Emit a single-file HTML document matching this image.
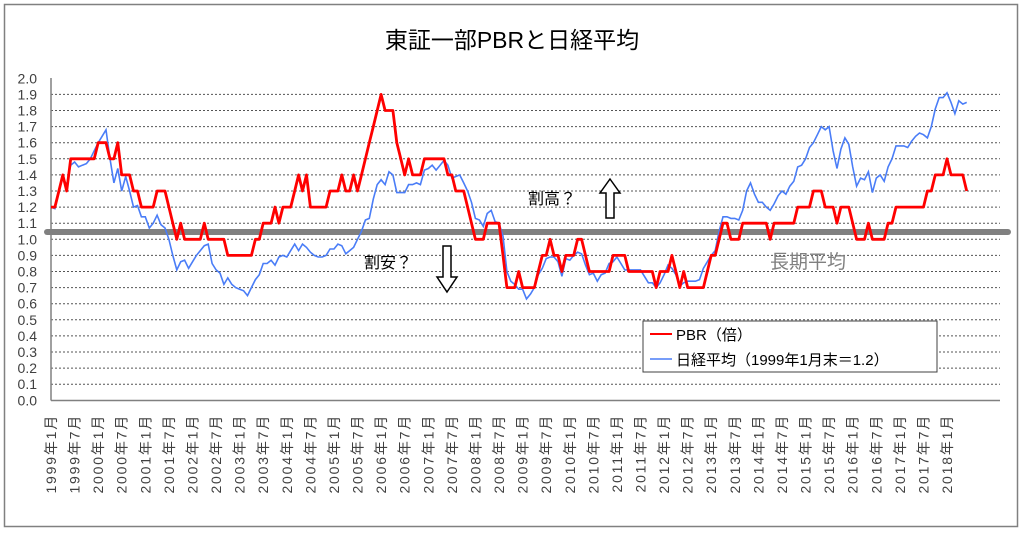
<!DOCTYPE html>
<html><head><meta charset="utf-8"><style>
body{margin:0;background:#fff;}
svg{display:block;font-family:"Liberation Sans","Noto Sans CJK JP",sans-serif;}
</style></head><body>
<svg id="chart" width="1024" height="534" viewBox="0 0 1024 534">
<rect x="4.5" y="4.5" width="1013" height="522" fill="#fff" stroke="#808080" stroke-width="1.5"/>
<text x="512" y="48" font-size="23" text-anchor="middle" fill="#000">東証一部PBRと日経平均</text>
<g id="grid"></g>
<g id="yticks"></g>
<g id="xticks"></g>
<line x1="51" y1="78" x2="51" y2="400.5" stroke="#808080" stroke-width="1.5"/>
<line x1="51" y1="400.5" x2="1000" y2="400.5" stroke="#808080" stroke-width="1.5"/>
<line x1="47" y1="232" x2="1008" y2="232" stroke="#808080" stroke-width="6" stroke-linecap="round"/>
<polyline id="blueLine" fill="none" stroke="#4a7df7" stroke-width="1.6"/>
<polyline id="redLine" fill="none" stroke="#ff0000" stroke-width="2.8" stroke-linejoin="round"/>
<text x="770" y="268" font-size="19" fill="#808080">長期平均</text>
<text x="528" y="204" font-size="16" fill="#000">割高？</text>
<path d="M610,179 L620,193 L614,193 L614,218 L606,218 L606,193 L600,193 Z" fill="#fff" stroke="#000" stroke-width="1.5"/>
<text x="364" y="268" font-size="16" fill="#000">割安？</text>
<path d="M447,292 L457,277 L451,277 L451,246 L443,246 L443,277 L437,277 Z" fill="#fff" stroke="#000" stroke-width="1.5"/>
<g>
<rect x="643" y="321" width="294" height="51" fill="#fff" stroke="#404040" stroke-width="1"/>
<line x1="650" y1="334" x2="672" y2="334" stroke="#ff0000" stroke-width="2"/>
<text x="676" y="340" font-size="15" fill="#000">PBR（倍）</text>
<line x1="650" y1="359" x2="672" y2="359" stroke="#4a7df7" stroke-width="1.5"/>
<text x="676" y="365" font-size="15" fill="#000">日経平均（1999年1月末＝1.2）</text>
</g>
</svg>
<script>
const yTickLabels=["0.0","0.1","0.2","0.3","0.4","0.5","0.6","0.7","0.8","0.9","1.0","1.1","1.2","1.3","1.4","1.5","1.6","1.7","1.8","1.9","2.0"];
const xTickLabels=["1999年1月","1999年7月","2000年1月","2000年7月","2001年1月","2001年7月","2002年1月","2002年7月","2003年1月","2003年7月","2004年1月","2004年7月","2005年1月","2005年7月","2006年1月","2006年7月","2007年1月","2007年7月","2008年1月","2008年7月","2009年1月","2009年7月","2010年1月","2010年7月","2011年1月","2011年7月","2012年1月","2012年7月","2013年1月","2013年7月","2014年1月","2014年7月","2015年1月","2015年7月","2016年1月","2016年7月","2017年1月","2017年7月","2018年1月"];
const pbrValues=[1.2,1.2,1.3,1.4,1.3,1.5,1.5,1.5,1.5,1.5,1.5,1.5,
1.6,1.6,1.6,1.5,1.5,1.6,1.4,1.4,1.4,1.3,1.3,1.2,
1.2,1.2,1.2,1.3,1.3,1.3,1.2,1.1,1.0,1.1,1.0,1.0,
1.0,1.0,1.0,1.1,1.0,1.0,1.0,1.0,1.0,0.9,0.9,0.9,
0.9,0.9,0.9,0.9,1.0,1.0,1.1,1.1,1.1,1.2,1.1,1.2,
1.2,1.2,1.3,1.4,1.3,1.4,1.2,1.2,1.2,1.2,1.2,1.3,
1.3,1.3,1.4,1.3,1.3,1.4,1.3,1.4,1.5,1.6,1.7,1.8,
1.9,1.8,1.8,1.8,1.6,1.5,1.4,1.5,1.4,1.4,1.4,1.5,
1.5,1.5,1.5,1.5,1.5,1.4,1.4,1.3,1.3,1.3,1.2,1.1,
1.0,1.0,1.0,1.1,1.1,1.1,1.1,0.9,0.7,0.7,0.7,0.8,
0.7,0.7,0.7,0.7,0.8,0.9,0.9,1.0,0.9,0.9,0.8,0.9,
0.9,0.9,1.0,1.0,0.9,0.8,0.8,0.8,0.8,0.8,0.8,0.9,
0.9,0.9,0.9,0.8,0.8,0.8,0.8,0.8,0.8,0.8,0.7,0.8,
0.8,0.8,0.9,0.8,0.7,0.8,0.7,0.7,0.7,0.7,0.7,0.8,
0.9,0.9,1.0,1.1,1.1,1.0,1.0,1.0,1.1,1.1,1.1,1.1,
1.1,1.1,1.1,1.0,1.1,1.1,1.1,1.1,1.1,1.1,1.2,1.2,
1.2,1.2,1.3,1.3,1.3,1.2,1.2,1.2,1.1,1.2,1.2,1.2,
1.1,1.0,1.0,1.0,1.1,1.0,1.0,1.0,1.0,1.1,1.1,1.2,
1.2,1.2,1.2,1.2,1.2,1.2,1.2,1.3,1.3,1.4,1.4,1.4,
1.5,1.4,1.4,1.4,1.4,1.3];
const nikkeiValues=[1.2,1.19,1.3,1.38,1.34,1.46,1.48,1.45,1.46,1.47,1.5,1.55,
1.6,1.64,1.68,1.5,1.35,1.44,1.3,1.39,1.3,1.2,1.21,1.14,
1.14,1.07,1.1,1.15,1.09,1.07,1.0,0.9,0.81,0.86,0.87,0.82,
0.86,0.9,0.93,0.96,0.97,0.85,0.81,0.79,0.72,0.76,0.72,0.7,
0.69,0.68,0.65,0.7,0.75,0.78,0.85,0.85,0.87,0.84,0.89,0.9,
0.89,0.93,0.97,0.93,0.97,0.95,0.92,0.9,0.89,0.89,0.9,0.94,
0.94,0.97,0.96,0.91,0.93,0.95,1.0,1.05,1.12,1.13,1.25,1.34,
1.37,1.34,1.42,1.4,1.29,1.29,1.29,1.34,1.34,1.35,1.34,1.43,
1.44,1.46,1.43,1.46,1.49,1.46,1.38,1.39,1.4,1.35,1.3,1.23,
1.13,1.12,1.08,1.16,1.18,1.11,1.1,1.02,0.8,0.74,0.72,0.69,
0.69,0.63,0.66,0.7,0.78,0.82,0.88,0.89,0.89,0.86,0.77,0.88,
0.87,0.9,0.92,0.91,0.84,0.78,0.79,0.74,0.78,0.79,0.85,0.86,
0.89,0.85,0.81,0.81,0.81,0.81,0.81,0.77,0.73,0.73,0.7,0.73,
0.78,0.84,0.82,0.78,0.71,0.73,0.74,0.74,0.74,0.75,0.82,0.86,
0.9,0.93,1.05,1.14,1.14,1.13,1.13,1.12,1.18,1.3,1.35,1.28,
1.23,1.23,1.2,1.18,1.22,1.27,1.3,1.28,1.33,1.36,1.45,1.46,
1.5,1.57,1.6,1.65,1.7,1.68,1.7,1.55,1.44,1.56,1.63,1.59,
1.45,1.33,1.38,1.37,1.42,1.29,1.38,1.4,1.36,1.45,1.5,1.58,
1.58,1.58,1.57,1.61,1.64,1.66,1.65,1.63,1.7,1.81,1.88,1.88,
1.91,1.85,1.78,1.86,1.84,1.85];

const NS="http://www.w3.org/2000/svg";
const X0=51, DX=3.93, Y0=400.3, PX_PER_UNIT=161;
function xScale(i){return X0+i*DX;}
function yScale(v){return Y0-v*PX_PER_UNIT;}

const grid=document.getElementById('grid');
const yt=document.getElementById('yticks');
yTickLabels.forEach(function(lab){
  const v=parseFloat(lab);const y=yScale(v);
  if(v>0 && v<2.0){
    const l=document.createElementNS(NS,'line');
    l.setAttribute('x1',51);l.setAttribute('x2',1000);
    l.setAttribute('y1',y);l.setAttribute('y2',y);
    l.setAttribute('stroke','#555');l.setAttribute('stroke-width','1');
    l.setAttribute('stroke-dasharray','2,2');
    
    
    grid.appendChild(l);
  }
  const t=document.createElementNS(NS,'text');
  t.setAttribute('x',37);t.setAttribute('y',y+5);
  t.setAttribute('text-anchor','end');t.setAttribute('font-size','14');
  t.setAttribute('fill','#404040');
  t.textContent=lab;
  
  
  yt.appendChild(t);
});
const xt=document.getElementById('xticks');
xTickLabels.forEach(function(lab,k){
  const x=xScale(k*6)+5;
  const t=document.createElementNS(NS,'text');
  t.setAttribute('transform','translate('+x+',414) rotate(-90)');
  t.setAttribute('text-anchor','end');t.setAttribute('font-size','14');
  t.setAttribute('letter-spacing','1.8');
  t.setAttribute('fill','#404040');
  t.textContent=lab;
  
  
  xt.appendChild(t);
});
document.getElementById('redLine').setAttribute('points',pbrValues.map(function(v,i){return xScale(i).toFixed(1)+','+yScale(v).toFixed(1);}).join(' '));
document.getElementById('blueLine').setAttribute('points',nikkeiValues.map(function(v,i){return xScale(i).toFixed(1)+','+yScale(v).toFixed(1);}).join(' '));
</script>
</body></html>
